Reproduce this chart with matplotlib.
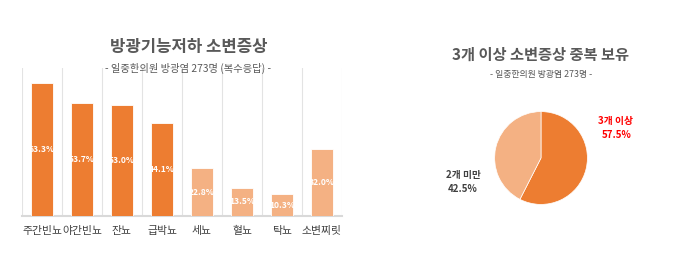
import matplotlib
matplotlib.use('Agg')
import matplotlib.pyplot as plt
import numpy as np

plt.rcParams['font.family'] = ['Noto Sans CJK KR', 'DejaVu Sans']

# bar chart data
categories = ['주간빈뇨', '야간빈뇨', '잔뇨', '급박뇨', '세뇨', '혈뇨', '탁뇨', '소변찌릿']
values = [63.3, 53.7, 53.0, 44.1, 22.8, 13.5, 10.3, 32.0]
dark = [True, True, True, True, False, False, False, False]

# pie data
pie_labels = ['3개 이상', '2개 미만']
pie_values = [57.5, 42.5]

DARK = '#ED7D31'
LIGHT = '#F4B183'
GRAY = '#595959'

W, H = 676, 267
fig = plt.figure(figsize=(W / 100, H / 100), dpi=100)


def px(l, t, w, h):
    return [l / W, (H - t - h) / H, w / W, h / H]


# --- bar chart ---
ax = fig.add_axes(px(22, 68, 320, 148))
x = np.arange(len(categories))
colors = [DARK if d else LIGHT for d in dark]
ax.bar(x, values, width=0.56, color=colors, edgecolor='white', linewidth=0.6, zorder=3)
for xi, v in zip(x, values):
    ax.text(xi, v / 2, f'{v:.1f}%', ha='center', va='center', color='white',
            fontsize=6.1, fontweight='bold', zorder=4)
ax.set_xlim(-0.5, len(categories) - 0.5)
ax.set_ylim(0, 70.4)
ax.set_xticks(x)
ax.set_xticklabels(categories, fontsize=7.8, color='#404040', fontweight='medium')
ax.set_xticks(np.arange(-0.5, len(categories)), minor=True)
ax.grid(True, which='minor', axis='x', color='#E3E3E3', linewidth=0.8, zorder=0)
ax.tick_params(axis='x', which='both', length=0, pad=7)
ax.set_yticks([])
for s in ['top', 'right', 'left']:
    ax.spines[s].set_visible(False)
ax.spines['bottom'].set_color('#D9D9D9')
ax.spines['bottom'].set_linewidth(1.5)

fig.text(189 / W, 1 - 47 / H, '방광기능저하 소변증상', ha='center', va='center',
         fontsize=12, fontweight='bold', color=GRAY)
fig.text(188 / W, 1 - 68 / H, '- 일중한의원 방광염 273명 (복수응답) -', ha='center', va='center',
         fontsize=7.4, color=GRAY)

# --- pie chart ---
pax = fig.add_axes(px(483, 100, 116, 116))
pax.pie(pie_values, colors=[DARK, LIGHT], startangle=90, counterclock=False,
        wedgeprops=dict(edgecolor='white', linewidth=0.5))
pax.set_aspect('equal')

fig.text(540 / W, 1 - 55 / H, '3개 이상 소변증상 중복 보유', ha='center', va='center',
         fontsize=11, fontweight='bold', color=GRAY)
fig.text(541 / W, 1 - 74 / H, '- 일중한의원 방광염 273명 -', ha='center', va='center',
         fontsize=6.4, color=GRAY)

fig.text(615 / W, 1 - 121 / H, pie_labels[0], ha='center', va='center',
         fontsize=7, fontweight='bold', color='#FF0000')
fig.text(617 / W, 1 - 135 / H, f'{pie_values[0]:.1f}%', ha='center', va='center',
         fontsize=7, fontweight='bold', color='#FF0000')
fig.text(463 / W, 1 - 175 / H, pie_labels[1], ha='center', va='center',
         fontsize=7, fontweight='bold', color='#404040')
fig.text(463 / W, 1 - 189 / H, f'{pie_values[1]:.1f}%', ha='center', va='center',
         fontsize=7, fontweight='bold', color='#404040')

fig.savefig('out.png', dpi=100)
